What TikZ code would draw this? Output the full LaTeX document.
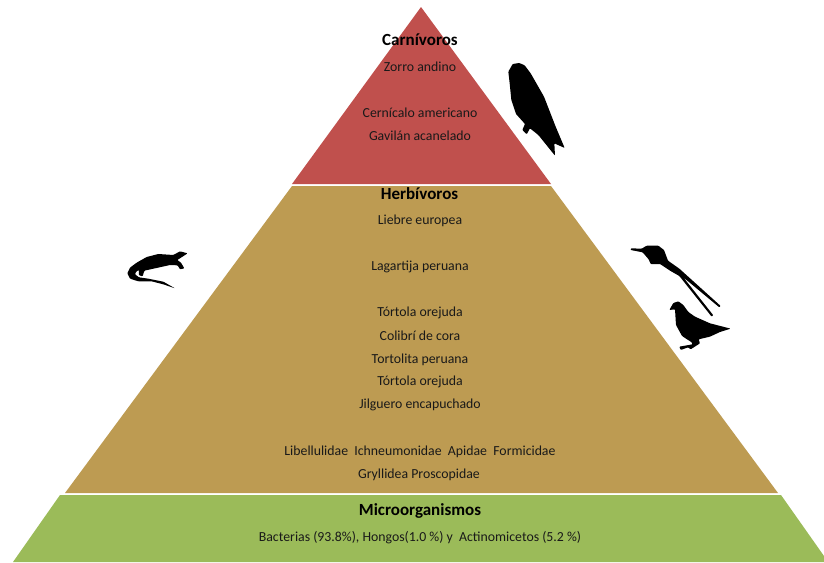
\documentclass[tikz,border=0pt]{standalone}
\usepackage{fontspec}
\setmainfont{Carlito}
\usepackage{xcolor}
\definecolor{carncolor}{RGB}{192,80,77}
\definecolor{herbcolor}{RGB}{189,155,82}
\definecolor{microcolor}{RGB}{155,187,89}
\tikzset{
  spname/.style={font=\fontsize{13.8}{16}\selectfont,text=black!90,inner sep=0pt,yshift=-1.5pt},
  grouptitle/.style={font=\fontsize{17}{20}\selectfont\bfseries,inner sep=0pt,yshift=-1pt},
  silh/.style={fill=black,draw=none,rounded corners=0.8pt}
}

\begin{document}
\begin{tikzpicture}[x=1pt,y=-1pt]
  \useasboundingbox (0,0) rectangle (824,562);
  % levels
  \fill[carncolor] (421,7) -- (551,184) -- (292,184) -- cycle;
  \fill[herbcolor] (292,186) -- (551,186) -- (778,493) -- (65,493) -- cycle;
  \fill[microcolor] (60,495) -- (781,495) -- (824,556) -- (824,562) -- (13,562) -- cycle;
  % titles
  \node[grouptitle] (carn) at (420,39) {Carnívoros};
  \node[grouptitle] (herb) at (419.5,192.5) {Herbívoros};
  \node[grouptitle] (micro) at (420,510) {Microorganismos};
  % species
  \foreach \sp/\ypos in {Zorro andino/65,Cernícalo americano/111,Gavilán acanelado/134,
      Liebre europea/219,Lagartija peruana/265,Tórtola orejuda/311,Colibrí de cora/334,
      Tortolita peruana/358,Tórtola orejuda/380,Jilguero encapuchado/403} {
    \node[spname] (sp\ypos) at (420,\ypos) {\sp};
  }
  \node[spname] (insa) at (420,450) {Libellulidae\ \ Ichneumonidae\ \ Apidae\ \ Formicidae};
  \node[spname] (insb) at (419,473) {Gryllidea Proscopidae};
  \node[spname] (bact) at (420,536) {Bacterias (93.8\%), Hongos(1.0 \%) y\ \ Actinomicetos (5.2 \%)};
  % falcon
  \begin{scope}[shift={(480,40)},scale=0.3333]
    \fill[silh] (118,69) -- (98,72) -- (85,95) -- (89,130) -- (94,180) -- (108,222) -- (135,252)
      -- (127,270) -- (140,283) -- (150,265) -- (175,285) -- (225,347) -- (223,310)
      -- (254,324) -- (227,260) -- (192,170) -- (152,100) -- (134,76) -- cycle;
  \end{scope}
  % hummingbird and dove
  \begin{scope}[shift={(620,230)},scale=0.3333]
    \fill[silh] (32,55) -- (65,56) -- (80,47) -- (115,47) -- (132,60) -- (144,92) -- (178,116)
      -- (302,228) -- (298,232) -- (190,142) -- (280,256) -- (275,260) -- (178,138) -- (150,122)
      -- (120,102) -- (92,102) -- (86,88) -- (68,67) -- (32,60) -- cycle;
    \fill[silh] (175,214) -- (160,219) -- (148,240) -- (165,238) -- (168,285) -- (186,318)
      -- (215,337) -- (218,343) -- (178,350) -- (182,360) -- (205,352) -- (212,358) -- (240,340)
      -- (236,328) -- (270,320) -- (300,306) -- (332,296) -- (270,280) -- (225,260) -- (205,246)
      -- (190,225) -- cycle;
  \end{scope}
  % lizard
  \begin{scope}[shift={(115,240)},scale=0.3333]
    \fill[silh] (218,40) -- (195,34) -- (175,45) -- (130,42) -- (95,51) -- (65,68) -- (45,83)
      -- (37,100) -- (45,116) -- (70,124) -- (110,124) -- (145,133) -- (180,145) -- (145,125)
      -- (100,116) -- (72,112) -- (60,103) -- (64,94) -- (72,90) -- (72,106) -- (83,109)
      -- (88,92) -- (120,85) -- (165,75) -- (188,76) -- (195,88) -- (208,85) -- (198,68)
      -- (187,60) -- cycle;
  \end{scope}
\end{tikzpicture}
\end{document}
